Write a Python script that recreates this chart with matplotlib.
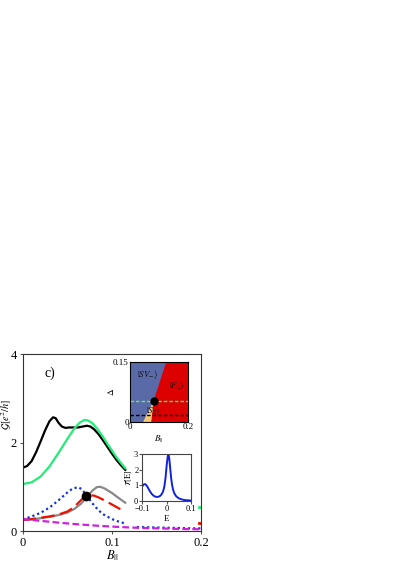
import matplotlib
matplotlib.use("Agg")
import matplotlib.pyplot as plt
import numpy as np
from matplotlib.patches import Polygon

plt.rcParams['font.family'] = ['Liberation Serif', 'DejaVu Serif']
plt.rcParams['mathtext.fontset'] = 'stix'

# ---- main panel data (B_par, G) ----
B_black = [0.0, 0.005, 0.01, 0.015, 0.02, 0.025, 0.03, 0.034, 0.037, 0.04, 0.044, 0.048, 0.052, 0.057, 0.062, 0.067, 0.072, 0.076, 0.08, 0.085, 0.09, 0.095, 0.1, 0.105, 0.11, 0.115]
G_black = [1.43, 1.47, 1.58, 1.78, 2.02, 2.27, 2.48, 2.57, 2.55, 2.45, 2.36, 2.33, 2.34, 2.34, 2.34, 2.36, 2.38, 2.36, 2.30, 2.19, 2.05, 1.90, 1.75, 1.61, 1.49, 1.38]
B_green = [0.0, 0.01, 0.02, 0.03, 0.04, 0.05, 0.058, 0.064, 0.069, 0.073, 0.078, 0.084, 0.09, 0.095, 0.1, 0.105, 0.11, 0.115]
G_green = [1.06, 1.10, 1.23, 1.46, 1.76, 2.08, 2.32, 2.45, 2.51, 2.50, 2.44, 2.30, 2.13, 1.97, 1.82, 1.67, 1.54, 1.42]
B_gray = [0.0, 0.01, 0.02, 0.03, 0.04, 0.05, 0.058, 0.065, 0.072, 0.078, 0.083, 0.087, 0.092, 0.1, 0.108, 0.115]
G_gray = [0.25, 0.26, 0.29, 0.32, 0.36, 0.42, 0.50, 0.61, 0.76, 0.91, 0.99, 1.00, 0.96, 0.86, 0.74, 0.64]
B_red = [0.0, 0.01, 0.02, 0.03, 0.04, 0.05, 0.057, 0.063, 0.068, 0.0706, 0.075, 0.08, 0.085, 0.09, 0.1, 0.108, 0.115]
G_red = [0.25, 0.27, 0.30, 0.33, 0.37, 0.44, 0.53, 0.65, 0.75, 0.79, 0.81, 0.80, 0.76, 0.71, 0.60, 0.51, 0.44]
B_blue = [0.0, 0.01, 0.02, 0.03, 0.04, 0.05, 0.056, 0.062, 0.066, 0.07, 0.075, 0.08, 0.085, 0.09, 0.1, 0.108, 0.115]
G_blue = [0.26, 0.33, 0.41, 0.53, 0.69, 0.87, 0.96, 0.99, 0.95, 0.85, 0.71, 0.58, 0.47, 0.38, 0.27, 0.21, 0.17]
B_blue_tail = [0.128, 0.15, 0.17, 0.19, 0.2]
G_blue_tail = [0.09, 0.08, 0.07, 0.06, 0.06]
B_mag = [0.0, 0.02, 0.04, 0.06, 0.08, 0.1, 0.12, 0.14, 0.16, 0.18, 0.2]
G_mag = [0.27, 0.23, 0.19, 0.155, 0.125, 0.10, 0.08, 0.065, 0.055, 0.045, 0.04]
B_edge = [0.198, 0.2]
G_edge_green = [0.54, 0.54]
G_edge_red = [0.18, 0.18]
dot_main = (0.0706, 0.79)

# ---- phase diagram inset ----
pd_B_boundary = [0.125, 0.081, 0.073]   # red/blue boundary at Delta = 0.15, dot, 0
pd_D_boundary = [0.15, 0.0526, 0.0]
pd_yellow_left = 0.045
pd_green_line = 0.0526
pd_black_line = 0.018
pd_dot = (0.081, 0.0526)

# ---- transmission inset ----
E_vals = [-0.1, -0.095, -0.09, -0.085, -0.08, -0.075, -0.07, -0.065, -0.06, -0.055, -0.05, -0.045, -0.04, -0.035, -0.03, -0.025, -0.02, -0.015, -0.01, -0.005, 0.0, 0.004, 0.007, 0.01, 0.014, 0.018, 0.022, 0.026, 0.03, 0.035, 0.04, 0.05, 0.06, 0.07, 0.08, 0.09, 0.1]
T_vals = [0.95, 1.05, 1.08, 1.03, 0.92, 0.78, 0.64, 0.52, 0.42, 0.35, 0.30, 0.27, 0.26, 0.27, 0.30, 0.36, 0.46, 0.62, 0.92, 1.5, 2.35, 2.85, 2.95, 2.75, 2.1, 1.45, 1.0, 0.72, 0.53, 0.38, 0.28, 0.17, 0.11, 0.07, 0.05, 0.04, 0.03]

fig = plt.figure(figsize=(3.99, 5.63), dpi=100)
ax = fig.add_axes([0.0569, 0.0568, 0.447, 0.3144])

ax.plot(B_black, G_black, color='black', lw=1.6)
ax.plot(B_green, G_green, color='#22ee77', lw=1.6)
ax.plot(B_gray, G_gray, color='#888888', lw=1.6)
ax.plot(B_red, G_red, color='#ee1100', lw=1.6, dashes=(6, 2.5))
ax.plot(B_blue, G_blue, color='#1133dd', lw=1.6, ls=(0, (1, 1.3)))
ax.plot(B_blue_tail, G_blue_tail, color='#1133dd', lw=1.6, ls=(0, (1, 1.3)))
ax.plot(B_mag, G_mag, color='#cc22dd', lw=1.6, dashes=(3, 1.5))
ax.plot(B_edge, G_edge_green, color='#22ee77', lw=2)
ax.plot(B_edge, G_edge_red, color='#ee1100', lw=2)
ax.plot([dot_main[0]], [dot_main[1]], 'o', color='black', ms=6)

ax.set_xlim(0, 0.2)
ax.set_ylim(0, 4)
ax.set_xticks([0, 0.1, 0.2])
ax.set_xticklabels(['0', '0.1', '0.2'])
ax.set_yticks([0, 2, 4])
ax.set_yticklabels(['0', '2', '4'])
for s in ax.spines.values():
    s.set_color('#333333')
ax.tick_params(direction='out', length=2.5, labelsize=9, pad=1.5, color='#555555')
ax.set_xlabel(r'$B_{||}$', fontsize=9, labelpad=0)
ax.set_ylabel(r'$\mathcal{G}[e^2/h]$', fontsize=7.5)
ax.yaxis.set_label_coords(-0.046, 0.66)
ax.text(0.031, 3.57, 'c)', fontsize=10, ha='center', va='center')

# phase diagram inset
ax1 = fig.add_axes([0.326, 0.2505, 0.145, 0.1065])
ax1.set_xlim(0, 0.2)
ax1.set_ylim(0, 0.15)
ax1.add_patch(Polygon([[0, 0], [0.2, 0], [0.2, 0.15], [0, 0.15]], closed=True, color='#5a6aa8', lw=0))
ax1.add_patch(Polygon([[pd_B_boundary[0], pd_D_boundary[0]], [0.2, 0.15], [0.2, 0],
                       [pd_B_boundary[2], pd_D_boundary[2]], [pd_B_boundary[1], pd_D_boundary[1]]],
                      closed=True, color='#dd0000', lw=0))
ax1.add_patch(Polygon([[pd_B_boundary[1], pd_D_boundary[1]], [pd_B_boundary[2], 0], [pd_yellow_left, 0]],
                      closed=True, color='#f5c878', lw=0))
ax1.axhline(pd_green_line, color='#66ee66', lw=1, dashes=(2.5, 1.5))
ax1.axhline(pd_black_line, color='black', lw=1, dashes=(2.5, 1.5))
ax1.plot([pd_dot[0]], [pd_dot[1]], 'o', color='black', ms=5)
ax1.text(0.025, 0.113, r'$|SV_{-}\rangle$', fontsize=6.5, color='#111111')
ax1.text(0.135, 0.085, r'$|F_2\rangle$', fontsize=6.5, color='#111111')
ax1.text(0.055, 0.022, r'$|S_2\rangle$', fontsize=6.5, color='#111111')
ax1.set_xticks([0, 0.2])
ax1.set_xticklabels(['0', '0.2'])
ax1.set_yticks([0, 0.15])
ax1.set_yticklabels(['0', '0.15'])
ax1.tick_params(length=0, labelsize=6.5, pad=1)
ax1.set_xlabel(r'$B_{||}$', fontsize=6.5, labelpad=2)
ax1.set_ylabel(r'$\Delta$', fontsize=6.5, labelpad=-2)

# transmission inset
ax2 = fig.add_axes([0.357, 0.1101, 0.122, 0.0835])
ax2.plot(E_vals, T_vals, color='#1122dd', lw=1.4)
ax2.set_xlim(-0.1, 0.1)
ax2.set_ylim(0, 3)
ax2.set_xticks([-0.1, 0, 0.1])
ax2.set_xticklabels(['\u22120.1', '0', '0.1'])
ax2.set_yticks([0, 1, 2, 3])
for s in ax2.spines.values():
    s.set_color('#444444')
ax2.tick_params(direction='out', length=2, labelsize=6, pad=1, color='#555555')
ax2.set_xlabel('E', fontsize=6.5, labelpad=1)
ax2.set_ylabel(r'$\mathcal{T}[\mathrm{E}]$', fontsize=6)
ax2.yaxis.set_label_coords(-0.17, 0.5)

fig.savefig('out.png', dpi=100)
